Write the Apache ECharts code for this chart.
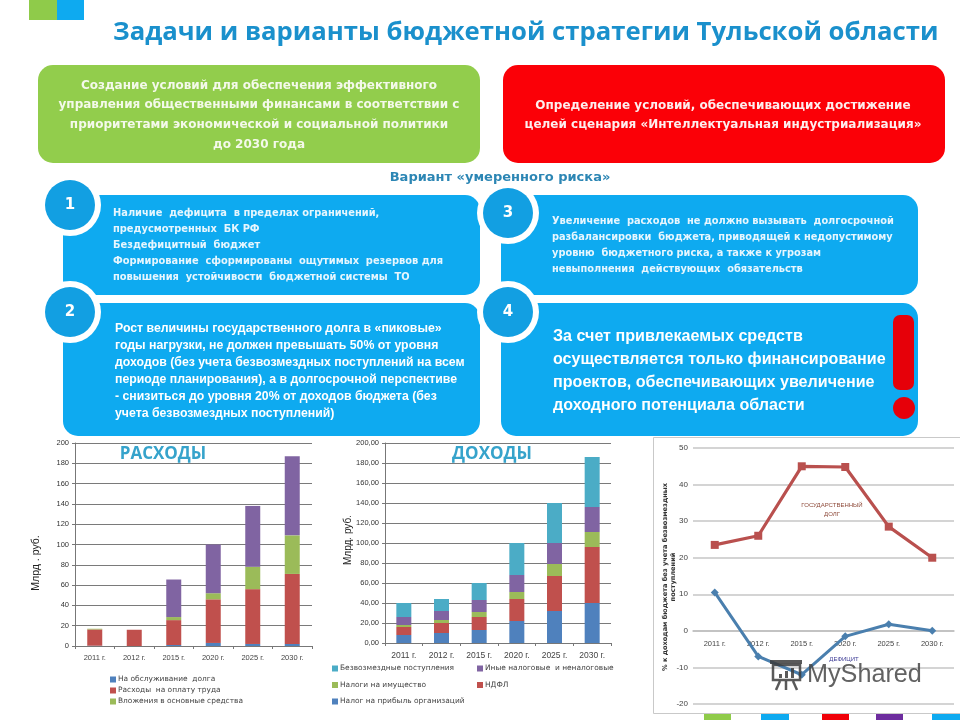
<!DOCTYPE html>
<html>
<head>
<meta charset="utf-8">
<style>html,body{margin:0;padding:0;background:#fff}#chart{width:960px;height:720px}</style>
<script src="https://cdn.jsdelivr.net/npm/echarts@6/dist/echarts.min.js"></script>
</head>
<body>
<div id="chart"></div>
<script>
// годы одинаковые для всех трёх графиков
const years = ['2011 г.', '2012 г.', '2015 г.', '2020 г.', '2025 г.', '2030 г.'];

// РАСХОДЫ, млрд руб.
const expDebt = [0.3, 0, 1, 3, 2, 2];
const expWages = [16, 16, 24.5, 43, 54, 69];
const expCapital = [0.7, 0, 3, 6, 22, 38];
const expOther = [0, 0, 37, 48, 60, 78];

// ДОХОДЫ, млрд руб.
const incProfit = [8, 10, 13, 22, 32, 40];
const incNdfl = [8, 10, 13, 22, 35, 56];
const incProperty = [2, 3, 5, 7, 12, 15];
const incOther = [8, 9, 12, 17, 21, 25];
const incGrants = [14, 12, 17, 32, 40, 50];

// % к доходам бюджета
const stateDebt = [23.5, 26, 45, 44.8, 28.5, 20];
const deficit = [10.5, -7, -12, -1.5, 1.8, 0];

const BLUE = '#0eaaf0', DARK_BLUE = '#129fe2';
const MARK = 'rgba(60,60,60,0.85)';
const sans = '"Liberation Sans", Arial, sans-serif';
const wide = '"DejaVu Sans", sans-serif';
const titleFont = '"Open Sans", "Noto Sans", sans-serif';

function box(x, y, w, h, r, fill, z) {
  return { type: 'rect', z: z || 0, shape: { x: x, y: y, width: w, height: h, r: r }, style: { fill: fill } };
}
function disc(cx, cy, r, fill, z) {
  return { type: 'circle', z: z, shape: { cx: cx, cy: cy, r: r }, style: { fill: fill } };
}
function label(x, y, text, size, fill, font, weight, align, lh, z, rotation) {
  return {
    type: 'text', x: x, y: y, z: z || 1, rotation: rotation || 0,
    style: {
      text: text, fontSize: size, fontFamily: font, fontWeight: weight || 'normal', fill: fill,
      align: align || 'left', verticalAlign: 'middle', lineHeight: lh || size
    }
  };
}
function numberBadge(cx, cy, n) {
  return [
    disc(cx, cy, 31, '#fff', 2),
    disc(cx, cy, 25, DARK_BLUE, 3),
    label(cx, cy, n, 15, '#fff', wide, 'bold', 'center', 15, 4)
  ];
}
function markLine(x1, y1, x2, y2) {
  return { type: 'line', z: 30, shape: { x1: x1, y1: y1, x2: x2, y2: y2 }, style: { stroke: MARK, lineWidth: 2.5 } };
}

const panels = [
  box(29, 0, 28, 20, 0, '#8fcb4a'),
  box(57, 0, 27, 20, 0, '#0eaaf0'),
  label(113, 33, 'Задачи и варианты бюджетной стратегии Тульской области', 25.7, '#1a90cc', titleFont, 'bold'),

  box(38, 65, 442, 98, 15, '#92cd4c'),
  label(259, 115, 'Создание условий для обеспечения эффективного\nуправления общественными финансами в соответствии с\nприоритетами экономической и социальной политики\nдо 2030 года', 12, '#f4f9ea', wide, 'bold', 'center', 19.7),
  box(503, 65, 442, 98, 15, '#fb0007'),
  label(723, 115, 'Определение условий, обеспечивающих достижение\nцелей сценария «Интеллектуальная индустриализация»', 12, '#fdeeee', wide, 'bold', 'center', 19),
  label(500, 178, 'Вариант «умеренного риска»', 13, '#2c86b4', wide, 'bold', 'center'),

  box(63, 195, 417, 100, 15, BLUE),
  box(501, 195, 417, 100, 15, BLUE),
  box(63, 303, 417, 133, 15, BLUE),
  box(501, 303, 417, 133, 15, BLUE),

  label(113, 245, 'Наличие  дефицита  в пределах ограничений,\nпредусмотренных  БК РФ\nБездефицитный  бюджет\nФормирование  сформированы  ощутимых  резервов для\nповышения  устойчивости  бюджетной системы  ТО', 9.85, '#e6f6fe', wide, 'bold', 'left', 16),
  label(552, 245, 'Увеличение  расходов  не должно вызывать  долгосрочной\nразбалансировки  бюджета, приводящей к недопустимому\nуровню  бюджетного риска, а также к угрозам\nневыполнения  действующих  обязательств', 9.8, '#e6f6fe', wide, 'bold', 'left', 16),
  label(115, 371, 'Рост величины государственного долга в «пиковые»\nгоды нагрузки, не должен превышать 50% от уровня\nдоходов (без учета безвозмездных поступлений на всем\nпериоде планирования), а в долгосрочной перспективе\n- снизиться до уровня 20% от доходов бюджета (без\nучета безвозмездных поступлений)', 12.3, '#fff', sans, 'bold', 'left', 17),
  label(553, 371, 'За счет привлекаемых средств\nосуществляется только финансирование\nпроектов, обеспечивающих увеличение\nдоходного потенциала области', 16.1, '#fff', sans, 'bold', 'left', 23),
  box(893, 315, 21, 75, 7, '#e60009'),
  { type: 'ellipse', z: 1, shape: { cx: 904, cy: 408, rx: 11, ry: 11 }, style: { fill: '#e60009' } }
].concat(numberBadge(70, 205, '1'), numberBadge(508, 213, '3'), numberBadge(70, 312, '2'), numberBadge(508, 312, '4'));

const chartDecor = [
  { type: 'rect', z: 0, shape: { x: 653.5, y: 437.5, width: 310, height: 276 }, style: { fill: '#fff', stroke: '#c9c9c9', lineWidth: 1 } },
  box(704, 714, 27, 6, 0, '#8fcb4a'),
  box(761, 714, 28, 6, 0, '#0eaaf0'),
  box(822, 714, 27, 6, 0, '#f00008'),
  box(876, 714, 27, 6, 0, '#6d2c9e'),
  box(932, 714, 28, 6, 0, '#0eaaf0'),
  label(163, 454, 'РАСХОДЫ', 17, '#36a3cb', titleFont, 'bold', 'center', 17, 20),
  label(492, 454, 'ДОХОДЫ', 17, '#36a3cb', titleFont, 'bold', 'center', 17, 20),
  label(36, 563, 'Млрд . руб.', 10.5, '#222', sans, 'normal', 'center', 12, 20, Math.PI / 2),
  label(348, 540, 'Млрд. руб.', 10, '#222', sans, 'normal', 'center', 12, 20, Math.PI / 2),
  label(669, 577, '% к доходам бюджета без учета безвозмездных\nпоступлений', 6.6, '#333', wide, 'bold', 'center', 8, 20, Math.PI / 2),
  label(832, 510, 'ГОСУДАРСТВЕННЫЙ\nДОЛГ', 6, '#8e4a3a', sans, 'normal', 'center', 9, 20),
  label(844, 659, 'ДЕФИЦИТ', 6, '#3e3d96', sans, 'normal', 'center', 8, 20),
  // водяной знак
  label(807, 675, 'MyShared', 25.2, 'rgba(70,70,70,0.85)', sans, 'normal', 'left', 26, 30),
  { type: 'rect', z: 30, shape: { x: 773, y: 665, width: 27, height: 15 }, style: { fill: 'none', stroke: MARK, lineWidth: 2.5 } },
  box(770, 660, 32, 4, 0, MARK, 30),
  box(779, 674, 3, 4, 0, MARK, 30),
  box(785, 671, 3, 7, 0, MARK, 30),
  box(791, 668, 3, 10, 0, MARK, 30),
  markLine(780, 681, 776, 690),
  markLine(793, 681, 797, 690),
  markLine(786, 681, 786, 690)
];

function stack(name, data, color, xAxisIndex, stackId) {
  return {
    name: name, type: 'bar', stack: stackId, data: data, barWidth: 15,
    xAxisIndex: xAxisIndex, yAxisIndex: xAxisIndex, itemStyle: { color: color }
  };
}
function legendOf(names, left, top, gap) {
  return {
    data: names, orient: 'vertical', left: left, top: top, padding: 0, itemGap: gap, itemWidth: 6, itemHeight: 6,
    icon: 'rect', selectedMode: false, textStyle: { fontSize: 7.45, color: '#444', fontFamily: wide, padding: [0, 0, 0, -3] }
  };
}
function barXAxis(gridIndex, size, color) {
  return {
    type: 'category', gridIndex: gridIndex, data: years,
    axisLine: { lineStyle: { color: '#777' } }, axisTick: { show: true, alignWithLabel: false, lineStyle: { color: '#777' }, length: 3 },
    axisLabel: { interval: 0, fontSize: size, color: color, fontFamily: sans, margin: 8 }
  };
}
function barYAxis(gridIndex, formatter) {
  return {
    type: 'value', gridIndex: gridIndex, min: 0, max: 200, interval: 20,
    axisLine: { show: true, lineStyle: { color: '#777' } }, axisTick: { show: true, length: 3, lineStyle: { color: '#777' } },
    splitLine: { lineStyle: { color: '#7a7a7a' } },
    axisLabel: { fontSize: 7.5, color: '#333', fontFamily: sans, margin: 6, formatter: formatter }
  };
}

const option = {
  backgroundColor: '#fff',
  animation: false,
  graphic: { elements: panels.concat(chartDecor) },
  grid: [
    { left: 75, top: 443, width: 237, height: 203 },
    { left: 385, top: 443, width: 226, height: 200 },
    { left: 693, top: 448, width: 261, height: 256 }
  ],
  legend: [
    legendOf(['На обслуживание  долга', 'Расходы  на оплату труда', 'Вложения в основные средства'], 110, 676, 4),
    legendOf(['Безвозмездные поступления', 'Налоги на имущество', 'Налог на прибыль организаций'], 332, 665, 9.5),
    legendOf(['Иные налоговые  и неналоговые', 'НДФЛ'], 477, 665, 9.5)
  ],
  xAxis: [
    barXAxis(0, 7.5, '#444'),
    barXAxis(1, 8.5, '#444'),
    {
      // подписи лет идут под нулевой линией, а не внизу сетки
      type: 'category', gridIndex: 2, data: years, offset: -73,
      axisLine: { onZero: false, lineStyle: { color: '#bdbdbd', width: 1.5 } }, axisTick: { show: false },
      axisLabel: { interval: 0, fontSize: 7.5, color: '#444', fontFamily: sans, margin: 9 }
    }
  ],
  yAxis: [
    barYAxis(0),
    barYAxis(1, function (v) { return v.toFixed(2).replace('.', ','); }),
    {
      type: 'value', gridIndex: 2, min: -20, max: 50, interval: 10,
      axisLine: { show: false }, axisTick: { show: false },
      splitLine: { lineStyle: { color: '#c6c6c6', width: 1.5 } },
      axisLabel: { fontSize: 8, color: '#444', fontFamily: sans, margin: 5 }
    }
  ],
  series: [
    stack('На обслуживание  долга', expDebt, '#4f81bd', 0, 'exp'),
    stack('Расходы  на оплату труда', expWages, '#c0504d', 0, 'exp'),
    stack('Вложения в основные средства', expCapital, '#9bbb59', 0, 'exp'),
    stack('Прочие расходы', expOther, '#8064a2', 0, 'exp'),
    stack('Налог на прибыль организаций', incProfit, '#4f81bd', 1, 'inc'),
    stack('НДФЛ', incNdfl, '#c0504d', 1, 'inc'),
    stack('Налоги на имущество', incProperty, '#9bbb59', 1, 'inc'),
    stack('Иные налоговые  и неналоговые', incOther, '#8064a2', 1, 'inc'),
    stack('Безвозмездные поступления', incGrants, '#4bacc6', 1, 'inc'),
    {
      name: 'Государственный долг', type: 'line', xAxisIndex: 2, yAxisIndex: 2, data: stateDebt,
      symbol: 'rect', symbolSize: 8, lineStyle: { color: '#b9504e', width: 3.2 }, itemStyle: { color: '#b9504e' }
    },
    {
      name: 'Дефицит', type: 'line', xAxisIndex: 2, yAxisIndex: 2, data: deficit,
      symbol: 'diamond', symbolSize: 8, lineStyle: { color: '#4a7fae', width: 3 }, itemStyle: { color: '#4a7fae' }
    }
  ]
};

const chart = echarts.init(document.getElementById('chart'));
chart.setOption(option);
</script>
</body>
</html>
